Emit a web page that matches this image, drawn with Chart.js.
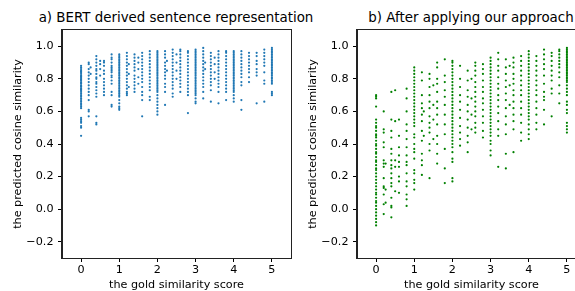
<!DOCTYPE html>
<html>
<head>
<meta charset="utf-8">
<script src="https://cdn.jsdelivr.net/npm/chart.js@4"></script>
<style>
  body { margin: 0; width: 575px; height: 291px; overflow: hidden; background: #fff; position: relative; font-family: 'DejaVu Sans', sans-serif; }
  .panel { position: absolute; top: 0; width: 300px; height: 291px; }
  .title { position: absolute; top: 9px; font-size: 13.4px; line-height: 18px; white-space: nowrap; transform: translateX(-50%); color: #000; }
</style>
</head>
<body>
<div class="title" style="left:176px">a) BERT derived sentence representation</div>
<div class="title" style="left:471px">b) After applying our approach</div>
<div class="panel" style="left:0"><canvas id="bertChart" width="300" height="291"></canvas></div>
<div class="panel" style="left:295px"><canvas id="oursChart" width="300" height="291"></canvas></div>
<script>
// gold score levels (x) and predicted cosine similarities read per level (y)
const goldLevels = [0, 0.2, 0.25, 0.4, 0.5, 0.6, 0.8, 1.0, 1.2, 1.25, 1.4, 1.5, 1.6, 1.8, 2.0, 2.2, 2.25, 2.4, 2.5, 2.6, 2.8, 3.0, 3.2, 3.25, 3.4, 3.5, 3.6, 3.8, 4.0, 4.2, 4.4, 4.6, 4.8, 5.0];

const bertSims = [
  [0.88,0.87,0.86,0.85,0.845,0.84,0.83,0.82,0.815,0.81,0.80,0.795,0.79,0.78,0.775,0.77,0.76,0.755,0.75,0.74,0.735,0.73,0.72,0.71,0.70,0.69,0.68,0.67,0.66,0.65,0.64,0.63,0.62,0.56,0.55,0.54,0.53,0.51,0.50,0.45],
  [0.90,0.89,0.86,0.84,0.82,0.80,0.78,0.76,0.74,0.72,0.70,0.67,0.61,0.60,0.57],
  [0.87,0.83],
  [0.94,0.92,0.90,0.88,0.86,0.85,0.83,0.81,0.80,0.78,0.77,0.75,0.73,0.71,0.69,0.57,0.53,0.52],
  [0.91,0.89,0.86,0.82],
  [0.91,0.90,0.88,0.85,0.83,0.80,0.78,0.76,0.74,0.72,0.70],
  [0.95,0.93,0.92,0.90,0.88,0.87,0.86,0.85,0.84,0.82,0.81,0.79,0.77,0.72,0.70,0.64,0.63],
  [0.95,0.94,0.93,0.92,0.91,0.90,0.89,0.88,0.87,0.86,0.85,0.84,0.83,0.82,0.81,0.80,0.79,0.78,0.77,0.76,0.75,0.74,0.73,0.72,0.71,0.70,0.69,0.67,0.65,0.63,0.62,0.61],
  [0.96,0.94,0.92,0.90,0.88,0.86,0.84,0.82,0.80,0.78,0.76,0.74,0.72,0.71,0.70],
  [0.89,0.83,0.75],
  [0.95,0.93,0.91,0.89,0.87,0.85,0.82,0.80,0.78,0.76,0.74,0.72],
  [0.93,0.90,0.86,0.81,0.77],
  [0.96,0.94,0.92,0.90,0.88,0.86,0.84,0.82,0.80,0.78,0.75,0.72,0.70,0.67,0.57],
  [0.97,0.95,0.93,0.91,0.89,0.87,0.85,0.83,0.81,0.79,0.77,0.75,0.73,0.69,0.67],
  [0.97,0.96,0.95,0.94,0.93,0.92,0.91,0.90,0.89,0.88,0.87,0.86,0.85,0.84,0.83,0.82,0.81,0.80,0.79,0.78,0.77,0.76,0.75,0.74,0.73,0.72,0.70,0.68,0.66,0.64,0.62,0.60,0.58],
  [0.97,0.95,0.93,0.90,0.88,0.86,0.84,0.82,0.80,0.77,0.75,0.72,0.64],
  [0.91,0.85],
  [0.98,0.96,0.94,0.92,0.90,0.88,0.86,0.84,0.82,0.80,0.78,0.76,0.74,0.71,0.69],
  [0.95,0.90,0.85,0.80],
  [0.98,0.97,0.95,0.93,0.91,0.89,0.87,0.85,0.83,0.81,0.79,0.77,0.75,0.72],
  [0.97,0.96,0.94,0.92,0.90,0.88,0.86,0.84,0.82,0.80,0.78,0.76,0.74,0.72,0.70,0.59],
  [0.98,0.97,0.96,0.95,0.94,0.93,0.92,0.91,0.90,0.89,0.88,0.87,0.86,0.85,0.84,0.83,0.82,0.81,0.80,0.79,0.78,0.77,0.76,0.75,0.74,0.73,0.72,0.71,0.70,0.68,0.66,0.65],
  [0.99,0.97,0.95,0.93,0.91,0.89,0.87,0.85,0.83,0.81,0.79,0.77,0.75,0.72,0.68],
  [0.90,0.86],
  [0.96,0.94,0.92,0.90,0.88,0.86,0.84,0.82,0.80,0.78,0.76,0.73,0.66],
  [0.93,0.89,0.84,0.80],
  [0.97,0.95,0.93,0.91,0.89,0.87,0.85,0.83,0.81,0.79,0.77,0.75,0.72,0.65],
  [0.97,0.96,0.94,0.92,0.90,0.88,0.86,0.84,0.82,0.80,0.78,0.76,0.74,0.72,0.67],
  [0.97,0.96,0.95,0.94,0.93,0.92,0.91,0.90,0.89,0.88,0.87,0.86,0.85,0.84,0.83,0.82,0.81,0.80,0.79,0.78,0.77,0.76,0.75,0.74,0.73,0.72,0.70,0.68,0.66],
  [0.97,0.95,0.93,0.91,0.89,0.87,0.85,0.83,0.81,0.78,0.76,0.67,0.61],
  [0.96,0.94,0.92,0.90,0.88,0.86,0.84,0.81,0.78],
  [0.96,0.94,0.91,0.89,0.86,0.84,0.82,0.65],
  [0.98,0.96,0.94,0.92,0.90,0.88,0.84,0.79,0.77,0.66],
  [0.99,0.98,0.97,0.96,0.95,0.94,0.93,0.92,0.91,0.90,0.89,0.88,0.87,0.86,0.85,0.84,0.83,0.82,0.81,0.80,0.79,0.78,0.77,0.72,0.71,0.70]
];

const oursSims = [
  [0.70,0.69,0.68,0.63,0.55,0.53,0.51,0.50,0.48,0.46,0.45,0.44,0.42,0.40,0.39,0.37,0.35,0.34,0.32,0.30,0.29,0.27,0.25,0.24,0.22,0.20,0.18,0.16,0.14,0.12,0.10,0.09,0.07,0.05,0.04,0.02,0.00,-0.02,-0.04,-0.06,-0.08,-0.10],
  [0.60,0.49,0.47,0.41,0.38,0.30,0.28,0.26,0.19,0.14,0.13,0.09,0.03,-0.03],
  [0.28,0.12,0.04],
  [0.72,0.55,0.48,0.44,0.37,0.34,0.30,0.27,0.25,0.22,0.19,0.16,0.14,0.07,0.02,0.01,-0.05],
  [0.73,0.54,0.30,0.26,0.11],
  [0.55,0.45,0.38,0.33,0.29,0.26,0.20,0.17,0.10],
  [0.74,0.68,0.60,0.52,0.48,0.43,0.38,0.33,0.29,0.27,0.22,0.17,0.14,0.09,0.06,0.02],
  [0.87,0.85,0.83,0.81,0.79,0.77,0.75,0.73,0.71,0.69,0.67,0.65,0.63,0.61,0.59,0.57,0.55,0.53,0.51,0.46,0.44,0.40,0.37,0.35,0.31,0.24,0.22,0.18,0.16,0.12],
  [0.84,0.79,0.70,0.65,0.62,0.58,0.54,0.48,0.42,0.34,0.30,0.27,0.21],
  [0.60,0.45],
  [0.83,0.80,0.75,0.70,0.66,0.62,0.57,0.53,0.50,0.47,0.40,0.36,0.19],
  [0.76,0.64,0.55,0.43],
  [0.90,0.87,0.80,0.77,0.72,0.66,0.62,0.58,0.52,0.45,0.40,0.34,0.28],
  [0.92,0.82,0.78,0.73,0.69,0.64,0.58,0.52,0.46,0.37,0.25,0.16],
  [0.91,0.90,0.88,0.86,0.84,0.82,0.80,0.78,0.76,0.74,0.72,0.70,0.68,0.66,0.64,0.62,0.60,0.58,0.56,0.54,0.52,0.50,0.48,0.46,0.44,0.42,0.40,0.38,0.35,0.31,0.29,0.19,0.17],
  [0.88,0.80,0.75,0.70,0.66,0.61,0.56,0.51,0.47,0.43,0.39],
  [],
  [0.85,0.79,0.73,0.69,0.64,0.60,0.55,0.50,0.45,0.41,0.35],
  [0.80,0.68,0.58,0.49],
  [0.90,0.88,0.85,0.82,0.78,0.75,0.72,0.69,0.66,0.63,0.60,0.57,0.53,0.50,0.47],
  [0.89,0.86,0.83,0.79,0.75,0.72,0.68,0.65,0.61,0.57,0.53,0.48,0.44],
  [0.93,0.91,0.89,0.87,0.85,0.83,0.81,0.79,0.77,0.75,0.73,0.71,0.69,0.67,0.65,0.63,0.61,0.59,0.57,0.55,0.53,0.51,0.49,0.47,0.45,0.42,0.40,0.36,0.33],
  [0.96,0.92,0.88,0.85,0.81,0.77,0.74,0.70,0.67,0.63,0.59,0.54,0.49,0.45,0.26],
  [],
  [0.92,0.87,0.83,0.79,0.75,0.71,0.67,0.62,0.57,0.52,0.46,0.34,0.25],
  [0.88,0.76,0.64],
  [0.93,0.90,0.87,0.83,0.80,0.77,0.73,0.70,0.66,0.62,0.58,0.54,0.49,0.35],
  [0.94,0.91,0.88,0.85,0.82,0.79,0.76,0.73,0.70,0.66,0.62,0.58,0.53,0.47,0.42],
  [0.97,0.95,0.93,0.91,0.89,0.87,0.85,0.83,0.81,0.79,0.77,0.75,0.73,0.71,0.69,0.67,0.65,0.63,0.61,0.59,0.57,0.55,0.52,0.49,0.46,0.43],
  [0.94,0.91,0.88,0.85,0.82,0.79,0.76,0.73,0.70,0.66,0.62,0.58,0.53,0.49],
  [0.98,0.95,0.92,0.89,0.86,0.82,0.77,0.72,0.69,0.67,0.61,0.52],
  [0.96,0.94,0.91,0.88,0.85,0.82,0.79,0.74,0.71,0.57],
  [0.98,0.97,0.95,0.93,0.91,0.89,0.87,0.84,0.81,0.76,0.71,0.65],
  [0.99,0.98,0.97,0.96,0.95,0.94,0.93,0.92,0.91,0.90,0.89,0.88,0.87,0.86,0.85,0.84,0.83,0.82,0.81,0.80,0.79,0.78,0.76,0.74,0.72,0.70,0.66,0.64,0.61,0.59,0.53,0.51,0.49,0.47]
];

const xTicks = [0, 1, 2, 3, 4, 5];
const yTicks = [-0.2, 0.0, 0.2, 0.4, 0.6, 0.8, 1.0];

Chart.defaults.font.family = "'DejaVu Sans', sans-serif";
Chart.defaults.font.size = 11.2;
Chart.defaults.color = '#000';

function toPoints(cols) {
    const pts = [];
    cols.forEach((ys, i) => ys.forEach(y => pts.push({ x: goldLevels[i], y: y })));
    return pts;
}

// matplotlib-style box around the axes
const frame = {
    id: 'frame',
    afterDraw(chart) {
        const a = chart.chartArea;
        const ctx = chart.ctx;
        ctx.save();
        ctx.strokeStyle = '#222';
        ctx.lineWidth = 1;
        ctx.strokeRect(Math.round(a.left) - 0.5, Math.round(a.top) - 0.5, Math.round(a.right - a.left) + 1, Math.round(a.bottom - a.top) + 1);
        ctx.restore();
    }
};

function makeChart(id, cols, color) {
    const ctx = document.getElementById(id).getContext('2d');
    return new Chart(ctx, {
        type: 'scatter',
        data: {
            datasets: [{
                data: toPoints(cols),
                backgroundColor: color,
                borderWidth: 0,
                pointRadius: 1.1,
                pointHoverRadius: 1.1
            }]
        },
        options: {
            responsive: false,
            animation: false,
            devicePixelRatio: 1,
            layout: { padding: { left: 0, right: 9, top: 30, bottom: 0 } },
            plugins: { legend: { display: false }, tooltip: { enabled: false } },
            scales: {
                x: {
                    type: 'linear',
                    min: -0.5,
                    max: 5.5,
                    afterBuildTicks: s => { s.ticks = xTicks.map(v => ({ value: v })); },
                    afterFit: s => { s.height = 33; },
                    ticks: { padding: 1.5, callback: v => String(v) },
                    grid: { drawOnChartArea: false, tickLength: 4, tickColor: '#000' },
                    border: { color: '#222' },
                    title: { display: true, text: 'the gold similarity score', padding: { top: 0, bottom: -1 } }
                },
                y: {
                    min: -0.3,
                    max: 1.1,
                    afterBuildTicks: s => { s.ticks = yTicks.map(v => ({ value: v })); },
                    afterFit: s => { s.width = 62; },
                    ticks: { padding: 4.5, callback: v => (v < -1e-9 ? '\u2212' : '') + Math.abs(v).toFixed(1) },
                    grid: { drawOnChartArea: false, tickLength: 4, tickColor: '#000' },
                    border: { color: '#222' },
                    title: { display: true, text: 'the predicted cosine similarity', padding: { top: 11.4, bottom: 0 } }
                }
            }
        },
        plugins: [frame]
    });
}

makeChart('bertChart', bertSims, '#1f77b4');
makeChart('oursChart', oursSims, '#008000');
</script>
</body>
</html>
